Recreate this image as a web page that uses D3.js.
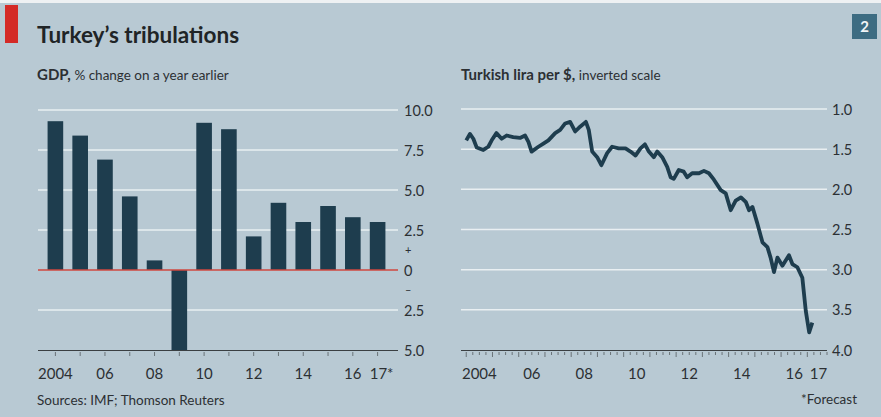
<!DOCTYPE html>
<html>
<head>
<meta charset="utf-8">
<script src="https://cdn.jsdelivr.net/npm/d3@7"></script>
<style>
  body { margin: 0; background: #b8c9d3; }
  svg { display: block; font-family: Lato, "Open Sans", sans-serif; }
</style>
</head>
<body>
<div id="chart"></div>
<script>
// GDP, % change on a year earlier
const gdpYears = [2004, 2005, 2006, 2007, 2008, 2009, 2010, 2011, 2012, 2013, 2014, 2015, 2016, 2017];
const gdpGrowth = [9.3, 8.4, 6.9, 4.6, 0.6, -5.0, 9.2, 8.8, 2.1, 4.2, 3.0, 4.0, 3.3, 3.0];
const gdpTickLabels = ["2004", "", "06", "", "08", "", "10", "", "12", "", "14", "", "16", "17*"];
const gdpYTicks = [10, 7.5, 5, 2.5, 0, -2.5, -5];

// Turkish lira per $, decimal years
const liraYears = [2004.0, 2004.14, 2004.27, 2004.40, 2004.65, 2004.84, 2004.97, 2005.15, 2005.35, 2005.54,
  2005.79, 2006.05, 2006.24, 2006.37, 2006.49, 2006.75, 2006.94, 2007.13, 2007.39, 2007.58,
  2007.77, 2007.96, 2008.15, 2008.34, 2008.56, 2008.67, 2008.80, 2008.99, 2009.15, 2009.37,
  2009.56, 2009.81, 2010.07, 2010.26, 2010.45, 2010.64, 2010.81, 2010.96, 2011.15, 2011.28,
  2011.47, 2011.66, 2011.79, 2011.91, 2012.10, 2012.29, 2012.42, 2012.61, 2012.87, 2013.06,
  2013.25, 2013.44, 2013.70, 2013.89, 2014.08, 2014.27, 2014.47, 2014.66, 2014.78, 2014.91,
  2015.10, 2015.29, 2015.48, 2015.60, 2015.73, 2015.86, 2016.05, 2016.30, 2016.43, 2016.62,
  2016.81, 2016.94, 2017.07, 2017.19];
const liraRates = [1.39, 1.31, 1.37, 1.48, 1.51, 1.47, 1.39, 1.30, 1.37, 1.33,
  1.35, 1.36, 1.33, 1.41, 1.53, 1.47, 1.43, 1.39, 1.30, 1.26,
  1.18, 1.16, 1.28, 1.22, 1.16, 1.26, 1.53, 1.60, 1.70, 1.55,
  1.47, 1.49, 1.49, 1.53, 1.58, 1.49, 1.44, 1.53, 1.60, 1.53,
  1.60, 1.72, 1.85, 1.87, 1.76, 1.78, 1.85, 1.80, 1.80, 1.77,
  1.80, 1.88, 2.01, 2.05, 2.26, 2.14, 2.10, 2.16, 2.26, 2.22,
  2.43, 2.66, 2.72, 2.85, 3.03, 2.85, 2.95, 2.82, 2.93, 2.97,
  3.10, 3.51, 3.78, 3.66];
const liraTickYears = [2004, 2006, 2008, 2010, 2012, 2014, 2016, 2017];
const liraTickLabels = ["2004", "06", "08", "10", "12", "14", "16", "17"];
const liraYTicks = [1.0, 1.5, 2.0, 2.5, 3.0, 3.5, 4.0];

const W = 881, H = 417;
const ink = "#1e3d4e";
const textCol = "#2c3033";
const gridCol = "#e9eff2";

const svg = d3.select("#chart").append("svg")
  .attr("width", W)
  .attr("height", H);

// nền
svg.append("rect").attr("width", W).attr("height", H).attr("fill", "#b8c9d3");
svg.append("rect").attr("width", W).attr("height", 3).attr("fill", "#eef1f3");

// dải đỏ + tiêu đề
svg.append("rect").attr("x", 5).attr("y", 5).attr("width", 13).attr("height", 38).attr("fill", "#d42a26");
svg.append("text")
  .attr("x", 37).attr("y", 43)
  .style("font-size", "22.5px").style("font-weight", "bold").style("fill", "#202426")
  .text("Turkey\u2019s tribulations");

// số 2
svg.append("rect").attr("x", 852).attr("y", 14).attr("width", 25).attr("height", 25).attr("fill", "#3d6c82");
svg.append("text")
  .attr("x", 864.5).attr("y", 32).attr("text-anchor", "middle")
  .style("font-size", "15px").style("font-weight", "bold").style("fill", "#f2f5f7")
  .text("2");

// phụ đề
const sub1 = svg.append("text").attr("x", 37).attr("y", 80).style("fill", textCol);
sub1.append("tspan").style("font-size", "15px").style("font-weight", "bold").text("GDP, ");
sub1.append("tspan").style("font-size", "13.5px").text("% change on a year earlier");

const sub2 = svg.append("text").attr("x", 461).attr("y", 80).style("fill", textCol);
sub2.append("tspan").style("font-size", "15px").style("font-weight", "bold").text("Turkish lira per $, ");
sub2.append("tspan").style("font-size", "13.5px").text("inverted scale");

// ===== Biểu đồ cột GDP =====
const gx = d3.scaleBand()
  .domain(gdpYears)
  .range([43, 390])
  .paddingInner(0.37)
  .paddingOuter(0.185);

const gy = d3.scaleLinear()
  .domain([-5, 10])
  .range([350, 110]);

const gdpData = gdpYears.map((y, i) => ({ year: y, value: gdpGrowth[i], label: gdpTickLabels[i] }));

// lưới
svg.append("g").selectAll("line")
  .data(gdpYTicks.filter(t => t !== 0 && t !== -5))
  .enter().append("line")
  .attr("x1", 38).attr("x2", 398)
  .attr("y1", d => gy(d)).attr("y2", d => gy(d))
  .attr("stroke", gridCol).attr("stroke-width", 1.5);

// nhãn trục y
svg.append("g").selectAll("text")
  .data(gdpYTicks)
  .enter().append("text")
  .attr("x", 404).attr("y", d => gy(d) + 5.5)
  .style("font-size", "14.5px").style("fill", textCol)
  .text(d => d === 0 ? "0" : Math.abs(d).toFixed(1));

svg.append("text").attr("x", 405).attr("y", gy(1.25) + 4)
  .style("font-size", "11px").style("fill", textCol).text("+");
svg.append("text").attr("x", 405).attr("y", gy(-1.25) + 4)
  .style("font-size", "11px").style("fill", textCol).text("\u2013");

// cột
svg.append("g").selectAll("rect")
  .data(gdpData)
  .enter().append("rect")
  .attr("x", d => gx(d.year))
  .attr("width", gx.bandwidth())
  .attr("y", d => gy(Math.max(0, d.value)))
  .attr("height", d => Math.abs(gy(d.value) - gy(0)))
  .attr("fill", ink);

// đường 0 màu đỏ
svg.append("line")
  .attr("x1", 38).attr("x2", 398)
  .attr("y1", gy(0)).attr("y2", gy(0))
  .attr("stroke", "#d0473f").attr("stroke-width", 1.5);

// trục dưới
svg.append("line")
  .attr("x1", 38).attr("x2", 398)
  .attr("y1", 350.5).attr("y2", 350.5)
  .attr("stroke", "#3a3f42").attr("stroke-width", 1);

svg.append("g").selectAll("line")
  .data(gdpData)
  .enter().append("line")
  .attr("x1", d => gx(d.year) + gx.bandwidth() / 2)
  .attr("x2", d => gx(d.year) + gx.bandwidth() / 2)
  .attr("y1", 352).attr("y2", 356)
  .attr("stroke", "#6a7378").attr("stroke-width", 1);

svg.append("g").selectAll("text")
  .data(gdpData.filter(d => d.label))
  .enter().append("text")
  .attr("x", d => gx(d.year) + gx.bandwidth() / 2 + (d.label === "17*" ? 4 : 0))
  .attr("y", 379)
  .attr("text-anchor", "middle")
  .style("font-size", "15px").style("fill", textCol)
  .text(d => d.label);

// ===== Biểu đồ đường tỷ giá =====
const lx = d3.scaleLinear()
  .domain([2003.8, 2017.75])
  .range([461, 827]);

const ly = d3.scaleLinear()
  .domain([1, 4])
  .range([109, 350]);

svg.append("g").selectAll("line")
  .data(liraYTicks.filter(t => t !== 4))
  .enter().append("line")
  .attr("x1", 461).attr("x2", 827)
  .attr("y1", d => ly(d)).attr("y2", d => ly(d))
  .attr("stroke", gridCol).attr("stroke-width", 1.5);

svg.append("g").selectAll("text")
  .data(liraYTicks)
  .enter().append("text")
  .attr("x", 832).attr("y", d => ly(d) + 5.5)
  .style("font-size", "14.5px").style("fill", textCol)
  .text(d => d.toFixed(1));

// trục dưới + vạch quý
svg.append("line")
  .attr("x1", 461).attr("x2", 827)
  .attr("y1", 350.5).attr("y2", 350.5)
  .attr("stroke", "#3a3f42").attr("stroke-width", 1);

const quarters = d3.range(2004, 2017.76, 0.25);
svg.append("g").selectAll("line")
  .data(quarters)
  .enter().append("line")
  .attr("x1", d => lx(d)).attr("x2", d => lx(d))
  .attr("y1", 352)
  .attr("y2", d => Math.abs(d - Math.round(d)) < 0.01 ? 357 : 355)
  .attr("stroke", "#6a7378").attr("stroke-width", 1);

svg.append("g").selectAll("text")
  .data(liraTickYears)
  .enter().append("text")
  .attr("x", d => lx(d + 0.5) - (d === 2017 ? 2 : 0))
  .attr("y", 379)
  .attr("text-anchor", "middle")
  .style("font-size", "15px").style("fill", textCol)
  .text((d, i) => liraTickLabels[i]);

const line = d3.line()
  .x((d, i) => lx(liraYears[i]))
  .y(d => ly(d))
  .curve(d3.curveLinear);

svg.append("path")
  .datum(liraRates)
  .attr("fill", "none")
  .attr("stroke", ink)
  .attr("stroke-width", 3.8)
  .attr("stroke-linejoin", "round")
  .attr("d", line);

// chú thích
svg.append("text")
  .attr("x", 37).attr("y", 405)
  .style("font-size", "13.5px").style("fill", textCol)
  .text("Sources: IMF; Thomson Reuters");

svg.append("text")
  .attr("x", 857).attr("y", 404)
  .attr("text-anchor", "end")
  .style("font-size", "13.5px").style("fill", textCol)
  .text("*Forecast");
</script>
</body>
</html>
